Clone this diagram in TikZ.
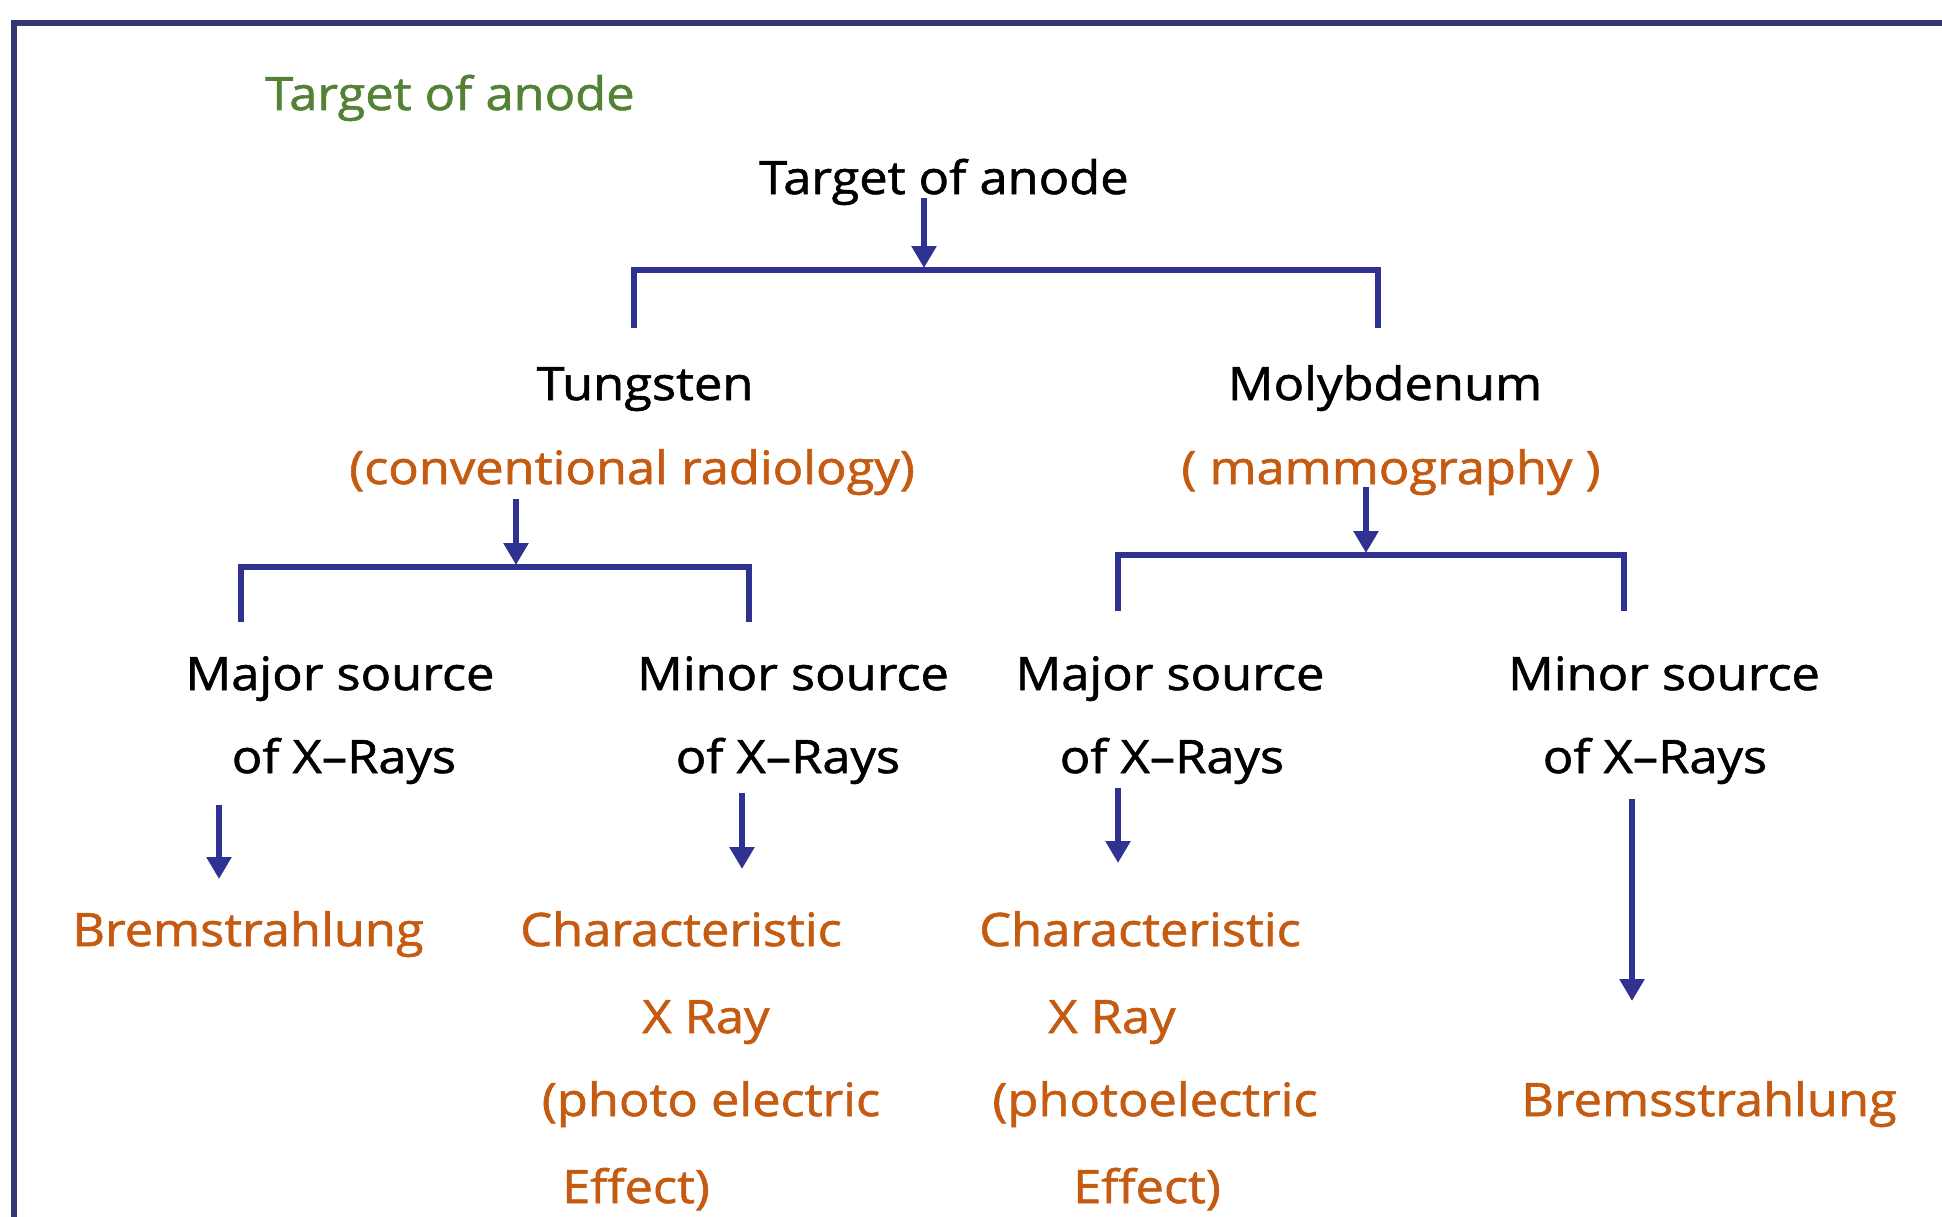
\documentclass[tikz,border=0pt]{standalone}
\usepackage{fontspec}
\setmainfont[FakeStretch=1.1,FakeBold=1.3]{Open Sans}
\usepackage{xcolor}
\usetikzlibrary{arrows.meta,calc,positioning}
\definecolor{frameNavy}{RGB}{55,55,115}
\definecolor{linkBlue}{RGB}{47,50,145}
\definecolor{anodeOrange}{RGB}{197,90,17}
\definecolor{anodeGreen}{RGB}{84,130,53}
\newcommand{\treefont}{\fontsize{46}{55}\selectfont}

\begin{document}
\begin{tikzpicture}[
    x=1pt, y=-1pt,
    nosep/.style={inner sep=0},
    txt/.style={nosep, anchor=base, font=\treefont},
    maintext/.style={txt, text=black},
    subtext/.style={txt, text=anodeOrange},
    title/.style={txt, text=anodeGreen},
    conn/.style={draw=linkBlue, line width=6pt},
    arrowhd/.style={-{Triangle[width=24pt,length=22pt]}}]
\useasboundingbox (0,0) rectangle (1942,1217);
\clip (0,0) rectangle (1942,1217);
\fill[white] (0,0) rectangle (1942,1217);
\path[draw, frameNavy, line width=6pt] (14,1300) -- (14,23) -- (2000,23);

\node[title] (caption) at (450,110) {Target of anode};

\node[maintext] (root) at (944,194) {Target of anode};
\node[maintext] (tung) at (645,400) {Tungsten};
\node[subtext]  (conv) at (632,484) {(conventional radiology)};
\node[maintext] (moly) at (1385,400) {Molybdenum};
\node[subtext]  (mammo) at (1391,484) {( mammography )};

\node[maintext] (majA1) at (340,690) {Major source};
\node[maintext] (majA2) at (344,773) {of X--Rays};
\node[maintext] (minA1) at (793,690) {Minor source};
\node[maintext] (minA2) at (788,773) {of X--Rays};
\node[maintext] (majB1) at (1170,690) {Major source};
\node[maintext] (majB2) at (1172,773) {of X--Rays};
\node[maintext] (minB1) at (1664,690) {Minor source};
\node[maintext] (minB2) at (1655,773) {of X--Rays};

\node[subtext] (bremA) at (248,946) {Bremstrahlung};
\node[subtext] (charA1) at (681,946) {Characteristic};
\node[subtext] (charA2) at (706,1033) {X Ray};
\node[subtext] (charA3) at (711,1116) {(photo electric};
\node[subtext] (charA4) at (636,1203) {Effect)};
\node[subtext] (charB1) at (1140,946) {Characteristic};
\node[subtext] (charB2) at (1112,1033) {X Ray};
\node[subtext] (charB3) at (1155,1116) {(photoelectric};
\node[subtext] (charB4) at (1147,1203) {Effect)};
\node[subtext] (bremB) at (1709,1116) {Bremsstrahlung};

\coordinate (rootsplit) at (924,270);
\coordinate (tungsplit) at (516,567);
\coordinate (molysplit) at (1366,555);

% splits
\path[draw, conn, arrowhd] ([shift={(-20,4)}]root.base) -- ([yshift=2pt]rootsplit);
\path[draw, conn] ([shift={(-11,-72)}]tung.base) |- (rootsplit) -| ([shift={(-7,-72)}]moly.base);
\path[draw, conn, arrowhd] ([shift={(-116,15)}]conv.base) -- ([yshift=2pt]tungsplit);
\path[draw, conn] ([shift={(-99,-68)}]majA1.base) |- (tungsplit) -| ([shift={(-44,-68)}]minA1.base);
\path[draw, conn, arrowhd] ([shift={(-25,3)}]mammo.base) -- ([yshift=2pt]molysplit);
\path[draw, conn] ([shift={(-52,-79)}]majB1.base) |- (molysplit) -| ([shift={(-40,-79)}]minB1.base);

% sources
\path[draw, conn, arrowhd] ([shift={(-125,32)}]majA2.base) -- ([shift={(-29,-67)}]bremA.base);
\path[draw, conn, arrowhd] ([shift={(-46,20)}]minA2.base) -- ([shift={(61,-77)}]charA1.base);
\path[draw, conn, arrowhd] ([shift={(-54,15)}]majB2.base) -- ([shift={(-22,-83)}]charB1.base);
\path[draw, conn, arrowhd] ([shift={(-23,26)}]minB2.base) -- ([shift={(-77,-115)}]bremB.base);

\end{tikzpicture}
\end{document}
